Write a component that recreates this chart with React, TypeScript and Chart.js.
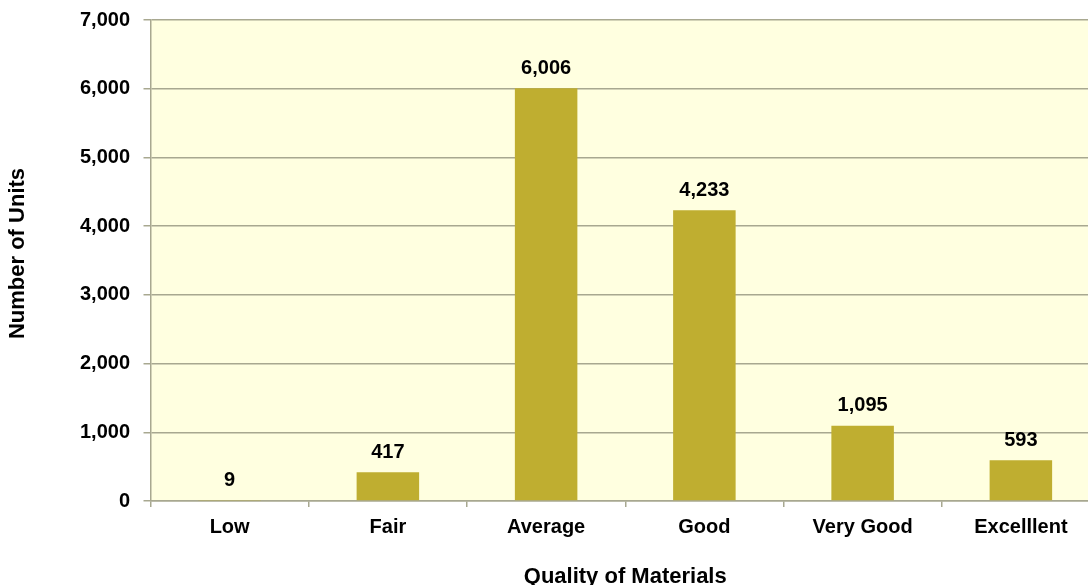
import React, { useEffect, useRef } from "react";
import { Chart, registerables } from "chart.js";

Chart.register(...registerables);

const categories = ["Low", "Fair", "Average", "Good", "Very Good", "Excelllent"];
const units = [9, 417, 6006, 4233, 1095, 593];
const yTickValues = [0, 1000, 2000, 3000, 4000, 5000, 6000, 7000];
const xTitle = "Quality of Materials";
const yTitle = "Number of Units";

const FONT = "'Liberation Sans', Arial, Helvetica, sans-serif";
const BAR = "#BFAE30";
const PLOT_BG = "#FFFFE0";
const GRID = "#A8A890";

const fmt = (v: number) => v.toLocaleString("en-US");

const bgPlugin = {
  id: "plotBg",
  beforeDraw(chart: any) {
    const { ctx, chartArea } = chart;
    ctx.save();
    ctx.fillStyle = PLOT_BG;
    ctx.fillRect(chartArea.left, chartArea.top, chartArea.right - chartArea.left, chartArea.bottom - chartArea.top);
    ctx.restore();
  },
};

const labelPlugin = {
  id: "valueLabels",
  afterDatasetsDraw(chart: any) {
    const { ctx } = chart;
    const meta = chart.getDatasetMeta(0);
    ctx.save();
    ctx.font = `bold 20px ${FONT}`;
    ctx.fillStyle = "#000";
    ctx.textAlign = "center";
    ctx.textBaseline = "middle";
    meta.data.forEach((el: any, i: number) => {
      const v = chart.data.datasets[0].data[i] as number;
      ctx.fillText(fmt(v), el.x, el.y - 20);
    });
    ctx.restore();
  },
};

const yTitlePlugin = {
  id: "yTitle",
  afterDraw(chart: any) {
    const { ctx, chartArea } = chart;
    ctx.save();
    ctx.font = `bold 22px ${FONT}`;
    ctx.fillStyle = "#000";
    ctx.textAlign = "center";
    ctx.textBaseline = "middle";
    ctx.translate(18, (chartArea.top + chartArea.bottom) / 2 - 7);
    ctx.rotate(-Math.PI / 2);
    ctx.fillText(yTitle, 0, 0);
    ctx.restore();
  },
};

export default function App() {
  const ref = useRef<HTMLCanvasElement | null>(null);
  useEffect(() => {
    document.body.style.margin = "0";
    document.body.style.overflow = "hidden";
    if (!ref.current) return;
    const chart = new Chart(ref.current, {
      type: "bar",
      data: {
        labels: categories,
        datasets: [
          {
            data: units,
            backgroundColor: BAR,
            borderWidth: 0,
            categoryPercentage: 1,
            barPercentage: 0.395,
          },
        ],
      },
      plugins: [bgPlugin, labelPlugin, yTitlePlugin],
      options: {
        responsive: false,
        animation: false,
        devicePixelRatio: 1,
        layout: { padding: { top: 20, right: 0, left: 0, bottom: 0 } },
        plugins: { legend: { display: false }, tooltip: { enabled: false } },
        scales: {
          x: {
            offset: true,
            afterFit(scale: any) {
              scale.height = 84;
              scale.paddingLeft = 0;
              scale.paddingRight = 0;
            },
            grid: {
              offset: true,
              drawOnChartArea: false,
              drawTicks: true,
              tickLength: 6,
              color: GRID,
              lineWidth: 1.5,
            },
            border: { display: true, color: GRID, width: 1.5 },
            ticks: {
              color: "#000",
              padding: 8,
              font: { family: FONT, size: 20, weight: "bold" },
              maxRotation: 0,
              autoSkip: false,
            },
            title: {
              display: true,
              text: xTitle,
              color: "#000",
              font: { family: FONT, size: 22, weight: "bold", lineHeight: 1 },
              padding: { top: 0, bottom: -3 },
            },
          },
          y: {
            min: 0,
            max: 7000,
            afterFit(scale: any) {
              scale.width = 150.5;
              scale.paddingTop = 0;
              scale.paddingBottom = 0;
            },
            afterBuildTicks(scale: any) {
              scale.ticks = yTickValues.map((v) => ({ value: v }));
            },
            grid: {
              color: GRID,
              lineWidth: 1.5,
              tickLength: 7,
              drawTicks: true,
            },
            border: { display: true, color: GRID, width: 1.5 },
            ticks: {
              color: "#000",
              padding: 13.5,
              font: { family: FONT, size: 20, weight: "bold" },
              callback: (v: any) => fmt(Number(v)),
            },
            title: { display: false },
          },
        },
      },
    });
    return () => chart.destroy();
  }, []);
  return (
    <div style={{ position: "fixed", left: 0, top: 0, width: 1088, height: 585, overflow: "hidden" }}>
      <canvas ref={ref} width={1100} height={585} style={{ display: "block", width: 1100, height: 585 }} />
    </div>
  );
}
